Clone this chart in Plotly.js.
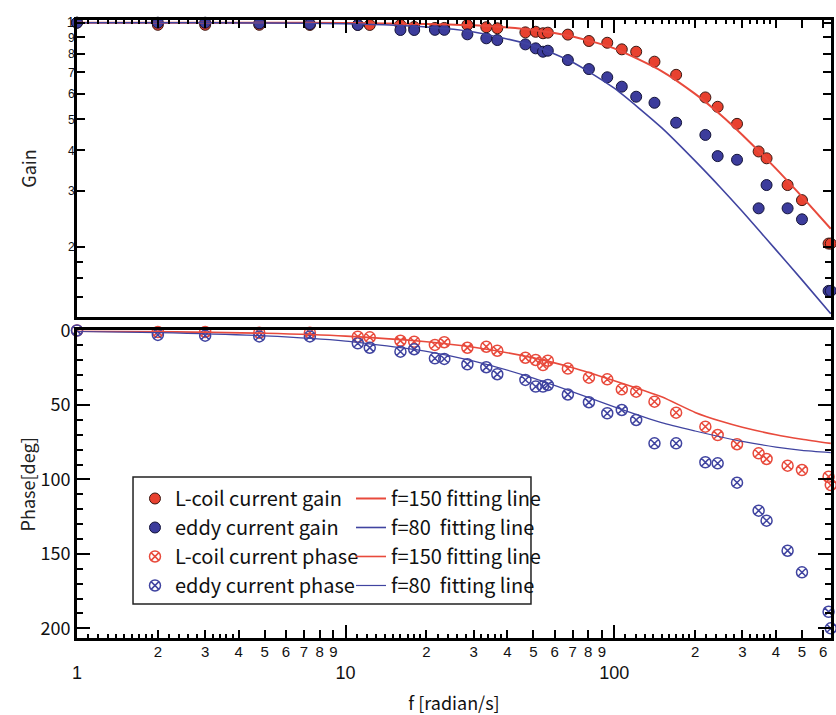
<!DOCTYPE html>
<html><head><meta charset="utf-8">
<script src="https://cdn.plot.ly/plotly-3.0.1.min.js"></script>
<style>html,body{margin:0;padding:0;background:#fff}</style>
</head><body><div id="chart" style="width:836px;height:715px"></div>
<script>
// measured frequencies [rad/s]
const freq = [1, 2, 3, 4.77, 7.36, 11.1, 12.3, 16.0, 18.0, 21.5, 23.3, 28.4, 33.4, 36.7, 46.7, 51.0, 54.3, 56.6, 67.2, 80.5, 94.2, 106.7, 120.7, 141.2, 170.0, 218.4, 242.7, 286.5, 344.8, 369.1, 442, 500, 628, 640];
const lcoilGain = [1.0, 0.985, 0.985, 0.985, 0.984, 0.985, 0.984, 0.984, 0.97, 0.963, 0.963, 0.984, 0.968, 0.961, 0.933, 0.937, 0.927, 0.931, 0.918, 0.877, 0.866, 0.826, 0.812, 0.756, 0.688, 0.585, 0.547, 0.484, 0.397, 0.378, 0.312, 0.280, 0.205, 0.205];
const eddyGain = [1.0, 1.0, 1.0, 0.995, 0.99, 0.984, 1.02, 0.949, 0.949, 0.95, 0.95, 0.920, 0.894, 0.883, 0.856, 0.832, 0.812, 0.818, 0.765, 0.717, 0.676, 0.632, 0.588, 0.563, 0.488, 0.447, 0.384, 0.374, 0.264, 0.312, 0.264, 0.244, 0.146, 0.146];
const lcoilPhase = [0, 1, 1, 1.5, 1.5, 4.2, 4.6, 6.9, 7.5, 9.7, 7.9, 11.6, 10.9, 13.6, 18.3, 19.8, 23.2, 20.3, 25.6, 31.7, 32.8, 39.5, 41.1, 47.8, 55.2, 64.6, 70.2, 76.4, 82.5, 86.3, 90.8, 93.7, 98.2, 103.8];
const eddyPhase = [0, 3, 3.5, 4, 4, 8.6, 11.6, 14.2, 12.6, 18.7, 19.1, 22.7, 24.7, 29.4, 33.2, 37.7, 37.7, 36.6, 43, 48.2, 55.6, 53.4, 60.1, 75.8, 75.8, 88.5, 89.2, 102.2, 121.0, 127.7, 147.9, 162.4, 188.9, 200];

// fitting lines
const fitFreq = [1, 2, 5, 10, 20, 30, 50, 70, 100, 150, 200, 250, 300, 400, 500, 640];
const fit150Gain = [1.0, 0.9999, 0.9994, 0.9978, 0.991, 0.981, 0.949, 0.906, 0.832, 0.707, 0.600, 0.515, 0.447, 0.351, 0.287, 0.228];
const fit80Gain = [1.0, 0.9997, 0.998, 0.992, 0.970, 0.936, 0.848, 0.753, 0.625, 0.471, 0.371, 0.305, 0.258, 0.196, 0.158, 0.124];
const fit150Phase = [0.4, 0.8, 1.9, 3.8, 7.6, 11.3, 18.4, 25.0, 33.7, 44.5, 55, 61, 65, 70, 73, 75.8];
const fit80Phase = [0.7, 1.4, 3.6, 7.1, 14.0, 20.6, 32.0, 41.2, 51.3, 61.9, 67.5, 71.5, 74.5, 78.3, 80.5, 82.0];

// tick labels
const xDigitVals = [2,3,4,5,6,7,8,9,20,30,40,50,60,70,80,90,200,300,400,500,600];
const xDigitText = ['2','3','4','5','6','7','8','9','2','3','4','5','6','7','8','9','2','3','4','5','6'];
const xSubVals = [1.1,1.2,1.3,1.4,1.5,1.6,1.7,1.8,1.9,2.2,2.4,2.6,2.8,3.2,3.4,3.6,3.8,
  11,12,13,14,15,16,17,18,19,22,24,26,28,32,34,36,38,
  110,120,130,140,150,160,170,180,190,220,240,260,280,320,340,360,380];
const xMajorVals = [1, 10, 100];
const xMajorText = ['1', '10', '100'];
const gainTickVals = [1, 0.9, 0.8, 0.7, 0.6, 0.5, 0.4, 0.3, 0.2];
const gainTickText = ['<span style="font-size:14px">1</span>', '9', '8', '7', '6', '5', '4', '3', '2'];
const gainSubVals = [0.18, 0.16, 0.14];
const phaseTickVals = [0, 50, 100, 150, 200];

const FONT = '"Noto Sans CJK JP", "Noto Sans", sans-serif';
const GFONT = '"Liberation Sans", Arial, sans-serif';
const RED = '#e8412f', BLUE = '#3c3c9c';
const REDL = '#e84a3c', BLUEL = '#4044a0';

const traces = [
  {x: freq, y: lcoilGain, xaxis: 'x', yaxis: 'y', mode: 'markers', name: 'L-coil current gain', legend: 'legend',
   cliponaxis: false, marker: {symbol: 'circle', size: 11, color: RED, line: {color: '#3a1812', width: 1}}},
  {x: freq, y: eddyGain, xaxis: 'x', yaxis: 'y', mode: 'markers', name: 'eddy current gain', legend: 'legend',
   cliponaxis: false, marker: {symbol: 'circle', size: 11, color: BLUE, line: {color: '#14143a', width: 1}}},
  {x: freq, y: lcoilPhase, xaxis: 'x2', yaxis: 'y2', mode: 'markers', name: 'L-coil current phase', legend: 'legend',
   cliponaxis: false, marker: {symbol: 'circle-x-open', size: 11, color: REDL, line: {width: 1.5}}},
  {x: freq, y: eddyPhase, xaxis: 'x2', yaxis: 'y2', mode: 'markers', name: 'eddy current phase', legend: 'legend',
   cliponaxis: false, marker: {symbol: 'circle-x-open', size: 11, color: BLUEL, line: {width: 1.5}}},
  {x: fitFreq, y: fit150Gain, xaxis: 'x3', yaxis: 'y', mode: 'lines', name: 'f=150 fitting line', legend: 'legend2',
   line: {color: REDL, width: 2, shape: 'spline', smoothing: 0.6}},
  {x: fitFreq, y: fit80Gain, xaxis: 'x3', yaxis: 'y', mode: 'lines', name: 'f=80\u00a0 fitting line', legend: 'legend2',
   line: {color: BLUEL, width: 1.6, shape: 'spline', smoothing: 0.6}},
  {x: fitFreq, y: fit150Phase, xaxis: 'x4', yaxis: 'y2', mode: 'lines', name: 'f=150 fitting line', legend: 'legend2',
   line: {color: REDL, width: 1.6, shape: 'spline', smoothing: 0.6}},
  {x: fitFreq, y: fit80Phase, xaxis: 'x4', yaxis: 'y2', mode: 'lines', name: 'f=80\u00a0 fitting line', legend: 'legend2',
   line: {color: BLUEL, width: 1.2, shape: 'spline', smoothing: 0.6}}
];

const XR = [0, 2.807];
const common = {showgrid: false, zeroline: false, tickcolor: '#000', tickwidth: 2, fixedrange: true};

const layout = {
  width: 836, height: 715,
  margin: {l: 77, r: 5, t: 20, b: 77},
  paper_bgcolor: '#fff', plot_bgcolor: '#fff',
  font: {family: FONT, color: '#111', size: 16},
  showlegend: true,
  xaxis: Object.assign({}, common, {
    type: 'log', range: XR, anchor: 'y', side: 'top', showticklabels: false,
    ticks: 'inside', tickmode: 'array', tickvals: xDigitVals, ticklen: 8,
    minor: {tickmode: 'array', tickvals: xSubVals, ticks: 'inside', ticklen: 4, tickwidth: 2, tickcolor: '#000'},
    showline: true, linewidth: 3, linecolor: '#000', mirror: true
  }),
  xaxis3: Object.assign({}, common, {
    type: 'log', range: XR, overlaying: 'x', anchor: 'y', side: 'top', showticklabels: false,
    ticks: 'inside', tickmode: 'array', tickvals: xMajorVals, ticklen: 13, showline: false
  }),
  xaxis2: Object.assign({}, common, {
    type: 'log', range: XR, anchor: 'y2', side: 'bottom',
    ticks: 'inside', tickmode: 'array', tickvals: xDigitVals, ticktext: xDigitText, ticklen: 8,
    tickfont: {size: 15, family: GFONT, color: '#111'}, ticklabelstandoff: -2,
    minor: {tickmode: 'array', tickvals: xSubVals, ticks: 'inside', ticklen: 4, tickwidth: 2, tickcolor: '#000'},
    showline: true, linewidth: 3, linecolor: '#000', mirror: true
  }),
  xaxis4: Object.assign({}, common, {
    type: 'log', range: XR, overlaying: 'x2', anchor: 'y2', side: 'bottom',
    ticks: 'inside', tickmode: 'array', tickvals: xMajorVals, ticktext: xMajorText, ticklen: 13,
    tickfont: {size: 18, family: GFONT, color: '#111'}, ticklabelstandoff: 22, showline: false,
    title: {text: 'f [radian/s]', font: {size: 18, family: FONT, color: '#111'}, standoff: 17}
  }),
  yaxis: Object.assign({}, common, {
    type: 'log', range: [-0.917, 0.0084], domain: [0.5194, 1], anchor: 'x',
    ticks: 'inside', tickmode: 'array', tickvals: gainTickVals, ticktext: gainTickText, ticklen: 8,
    minor: {tickmode: 'array', tickvals: gainSubVals, ticks: 'inside', ticklen: 6, tickwidth: 2, tickcolor: '#000'},
    tickfont: {size: 12, family: GFONT, color: '#111'}, ticklabelstandoff: -3,
    showline: true, linewidth: 3, linecolor: '#000', mirror: 'ticks',
    title: {text: 'Gain', font: {size: 18, family: FONT, color: '#222'}, standoff: 26}
  }),
  yaxis2: Object.assign({}, common, {
    range: [206.5, 0], domain: [0, 0.4976], anchor: 'x2',
    ticks: 'inside', tickmode: 'array', tickvals: phaseTickVals, ticklen: 13,
    minor: {tickmode: 'linear', tick0: 0, dtick: 10, ticks: 'inside', ticklen: 6, tickwidth: 2, tickcolor: '#000'},
    tickfont: {size: 18, family: FONT, color: '#111'}, ticklabelstandoff: 0,
    showline: true, linewidth: 3, linecolor: '#000', mirror: 'ticks',
    title: {text: 'Phase[deg]', font: {size: 18, family: FONT, color: '#222'}, standoff: 0}
  }),
  legend: {
    x: 0.0769, y: 0.2573, xanchor: 'left', yanchor: 'top', orientation: 'v',
    bgcolor: 'rgba(0,0,0,0)', borderwidth: 0, font: {family: FONT, size: 20, color: '#111'},
    traceorder: 'normal', tracegroupgap: 0
  },
  legend2: {
    x: 0.3634, y: 0.2573, xanchor: 'left', yanchor: 'top', orientation: 'v',
    bgcolor: 'rgba(0,0,0,0)', borderwidth: 0, font: {family: FONT, size: 20, color: '#111'},
    traceorder: 'normal', tracegroupgap: 0
  },
  shapes: [{
    type: 'rect', xref: 'paper', yref: 'paper', x0: 0.0743, x1: 0.6021, y0: 0.055, y1: 0.2605,
    line: {color: '#222', width: 1.5}, fillcolor: '#fff', layer: 'above'
  }]
};

Plotly.newPlot('chart', traces, layout, {displayModeBar: false, staticPlot: true});
</script>
</body></html>
